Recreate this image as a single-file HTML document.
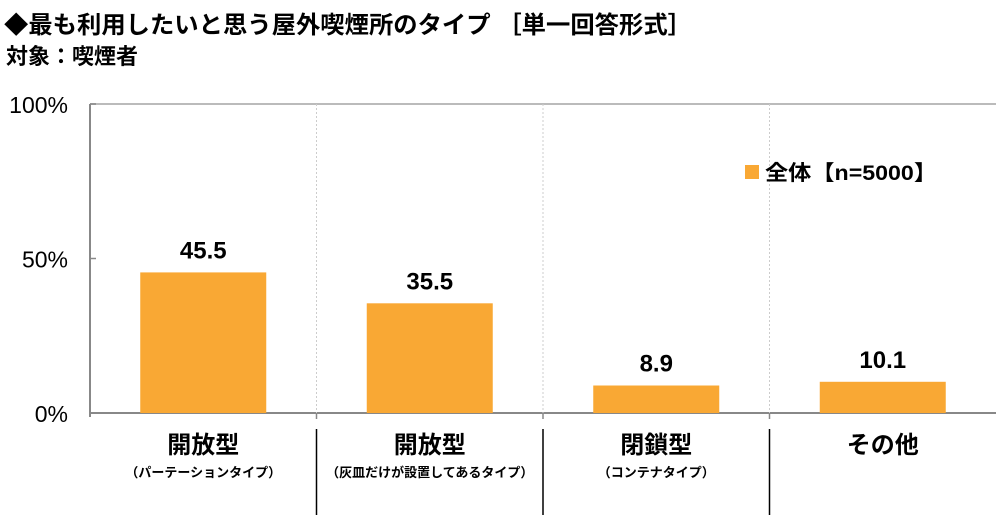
<!DOCTYPE html>
<html><head><meta charset="utf-8"><style>
body{margin:0;background:#fff;}
svg{display:block;font-family:"Liberation Sans","Noto Sans CJK JP",sans-serif;}
</style></head><body>
<svg id="chart" width="1000" height="515">
<text x="4" y="33" font-size="24" font-weight="bold" textLength="688" lengthAdjust="spacingAndGlyphs">◆最も利用したいと思う屋外喫煙所のタイプ ［単一回答形式］</text>
<text x="6" y="64" font-size="22" font-weight="bold">対象：喫煙者</text>
<g id="grid"></g><g id="bars"></g>
<rect x="745" y="165" width="14" height="14" fill="#F9A834"/>
<text x="765" y="180" font-size="21" font-weight="bold" textLength="172" lengthAdjust="spacingAndGlyphs">全体【n=5000】</text>
</svg>
<script>
const categories=["開放型","開放型","閉鎖型","その他"];
const subLabels=["（パーテーションタイプ）","（灰皿だけが設置してあるタイプ）","（コンテナタイプ）",""];
const values=[45.5,35.5,8.9,10.1];
const yTicks=[0,50,100];
const yTickLabels=["0%","50%","100%"];
const NS="http://www.w3.org/2000/svg";
const L=90,R=996,T=104,B=413;
const bw=(R-L)/categories.length;
const y=v=>B-(B-T)*v/100;
const xc=i=>L+bw*(i+0.5);
function mk(tag,attrs,parent,text){const e=document.createElementNS(NS,tag);for(const k in attrs)e.setAttribute(k,attrs[k]);if(text!==undefined)e.textContent=text;parent.appendChild(e);return e;}
const g=document.getElementById('grid'),gb=document.getElementById('bars');
let e=mk('line',{x1:L,y1:T,x2:R,y2:T,stroke:'#bbb','stroke-width':2},g);


e=mk('line',{x1:L,y1:T,x2:L,y2:B+4,stroke:'#888','stroke-width':2},g);


e=mk('line',{x1:L,y1:B,x2:R,y2:B,stroke:'#888','stroke-width':2},g);


yTicks.forEach((t,i)=>{
  const l=mk('line',{x1:L,y1:y(t),x2:L+6,y2:y(t),stroke:'#888','stroke-width':1.5},g);
  
  
  const tx=mk('text',{x:68,y:y(t)+9,'font-size':23,'text-anchor':'end'},g,yTickLabels[i]);
  
  
});
for(let i=1;i<categories.length;i++){
  const x=L+bw*i;
  const d=mk('line',{x1:x,y1:T,x2:x,y2:B,stroke:'#ccc','stroke-width':1,'stroke-dasharray':'2,2'},g);
  
  
  const tk=mk('line',{x1:x,y1:B,x2:x,y2:B+6,stroke:'#888','stroke-width':1.5},g);
  
  
  const s=mk('line',{x1:x,y1:429,x2:x,y2:515,stroke:'#000','stroke-width':1.5},g);
  
  
}
values.forEach((v,i)=>{
  const r=mk('rect',{x:xc(i)-63,y:y(v),width:126,height:B-y(v),fill:'#F9A834'},gb);
  
  
  const t=mk('text',{x:xc(i),y:y(v)-14,'font-size':24,'font-weight':'bold','text-anchor':'middle'},gb,v.toFixed(1));
  
  
  const c=mk('text',{x:xc(i),y:453,'font-size':24,'font-weight':'bold','text-anchor':'middle'},gb,categories[i]);
  
  
  if(subLabels[i]){
    const s=mk('text',{x:xc(i),y:477,'font-size':13,'font-weight':'bold','text-anchor':'middle'},gb,subLabels[i]);
    
    
  }
});
</script>
</body></html>
